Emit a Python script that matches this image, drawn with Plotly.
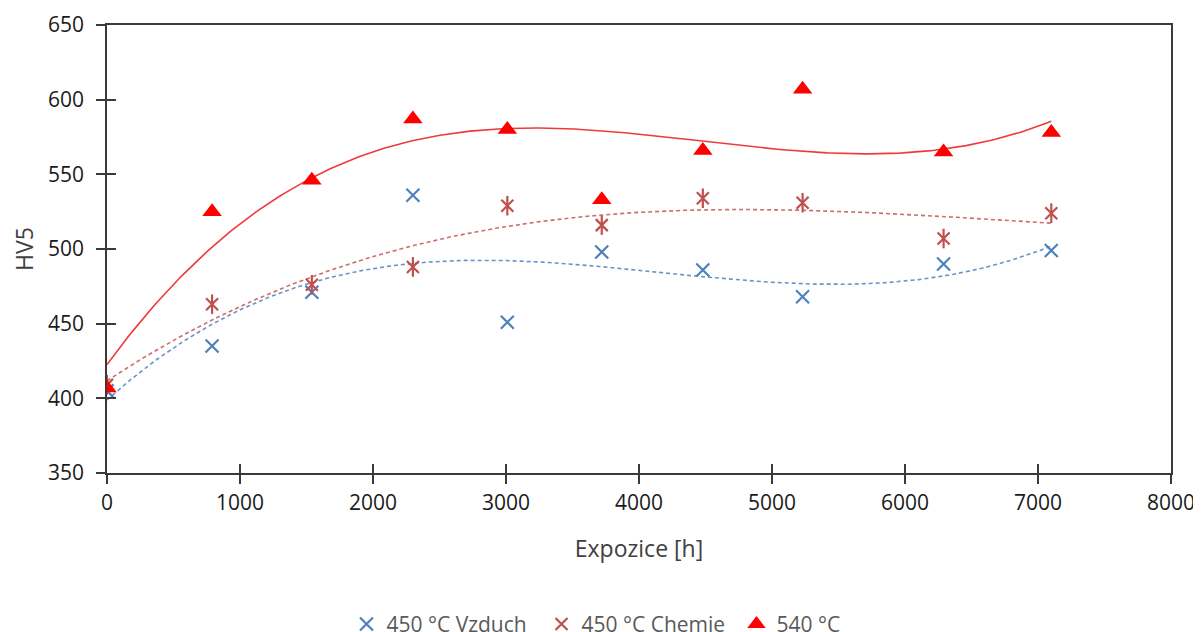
import numpy as np
import plotly.graph_objects as go

# ---- data ----
hours = [0, 790, 1540, 2300, 3010, 3720, 4480, 5230, 6290, 7100]
hv_vzduch_450 = [405, 435, 471, 536, 451, 498, 486, 468, 490, 499]
hv_chemie_450 = [409, 463, 476, 488, 529, 516, 534, 531, 507, 524]
hv_540 = [407, 525, 546, 587, 580, 533, 566, 607, 565, 578]

series_names = ["450 °C Vzduch", "450 °C Chemie", "540 °C"]
x_ticks = [0, 1000, 2000, 3000, 4000, 5000, 6000, 7000, 8000]
y_ticks = [350, 400, 450, 500, 550, 600, 650]

FONT = "Open Sans"
BLUE = "#4F81BD"
DRED = "#C0504D"
RED = "#FF0000"


def trend(xv, yv, deg=3, n=300):
    c = np.polyfit(xv, yv, deg)
    xs = np.linspace(min(xv), max(xv), n)
    return xs, np.polyval(c, xs)


fig = go.Figure()

# trendlines (polynomial, order 3)
tx, ty = trend(hours, hv_vzduch_450)
fig.add_trace(go.Scatter(x=tx, y=ty, mode="lines", showlegend=False, hoverinfo="skip",
                         line=dict(color="#6B93C8", width=1.6, dash="4px,3px")))
tx, ty = trend(hours, hv_chemie_450)
fig.add_trace(go.Scatter(x=tx, y=ty, mode="lines", showlegend=False, hoverinfo="skip",
                         line=dict(color="#CC6E6B", width=1.6, dash="4px,3px")))
tx, ty = trend(hours, hv_540)
fig.add_trace(go.Scatter(x=tx, y=ty, mode="lines", showlegend=False, hoverinfo="skip",
                         line=dict(color="#F03A3A", width=1.6)))

# markers
fig.add_trace(go.Scatter(x=hours, y=hv_vzduch_450, mode="markers", name=series_names[0],
                         marker=dict(symbol="x-thin-open", size=13, color=BLUE,
                                     line=dict(color=BLUE, width=2.2))))
fig.add_trace(go.Scatter(x=hours, y=hv_chemie_450, mode="markers", name=series_names[1],
                         marker=dict(symbol="x-thin-open", size=12, color=DRED,
                                     line=dict(color=DRED, width=2.2))))
fig.add_trace(go.Scatter(x=hours, y=hv_chemie_450, mode="markers", showlegend=False,
                         marker=dict(symbol="line-ns-open", size=14, color=DRED,
                                     line=dict(color=DRED, width=2.2))))
fig.add_trace(go.Scatter(x=hours, y=hv_540, mode="markers", name=series_names[2],
                         marker=dict(symbol="triangle-up", size=17, color=RED,
                                     line=dict(width=0))))

# invisible trace for the overlay axes (inside half of the crossing ticks)
fig.add_trace(go.Scatter(x=[None], y=[None], xaxis="x2", yaxis="y2", showlegend=False,
                         hoverinfo="skip"))

axis_common = dict(showgrid=False, zeroline=False, showline=True, linecolor="#3a3a3a",
                   linewidth=1.5, tickcolor="#3a3a3a", tickwidth=1.5,
                   tickfont=dict(family=FONT, size=21, color="#1a1a1a"))

# page body has an 8px margin, so the figure is offset by 8px in the window
fig.update_layout(
    width=1193, height=624,
    margin=dict(l=99, r=30, t=17, b=159, autoexpand=False),
    paper_bgcolor="white", plot_bgcolor="white",
    xaxis=dict(range=[0, 8000], tickvals=x_ticks, ticks="outside", ticklen=9,
               mirror=True, ticklabelstandoff=1,
               title=dict(text="Expozice [h]", font=dict(family=FONT, size=23, color="#404040"),
                          standoff=26),
               **axis_common),
    yaxis=dict(range=[350, 650], tickvals=y_ticks, ticks="outside", ticklen=9,
               mirror=True, ticklabelstandoff=8,
               title=dict(text="HV5", font=dict(family=FONT, size=23, color="#404040"),
                          standoff=20),
               **axis_common),
    xaxis2=dict(range=[0, 8000], overlaying="x", tickvals=x_ticks, ticks="inside", ticklen=9,
                tickcolor="#3a3a3a", tickwidth=1.5, showticklabels=False, showgrid=False,
                zeroline=False, showline=False, side="bottom"),
    yaxis2=dict(range=[350, 650], overlaying="y", tickvals=y_ticks, ticks="inside", ticklen=9,
                tickcolor="#3a3a3a", tickwidth=1.5, showticklabels=False, showgrid=False,
                zeroline=False, showline=False, side="left"),
    legend=dict(orientation="h", x=0.500, xanchor="center", y=-0.338, yanchor="middle",
                font=dict(family=FONT, size=21, color="#595959"), itemwidth=30,
                entrywidth=150, entrywidthmode="pixels",
                bgcolor="rgba(0,0,0,0)"),
    showlegend=True,
)

fig.write_html("out.html")
